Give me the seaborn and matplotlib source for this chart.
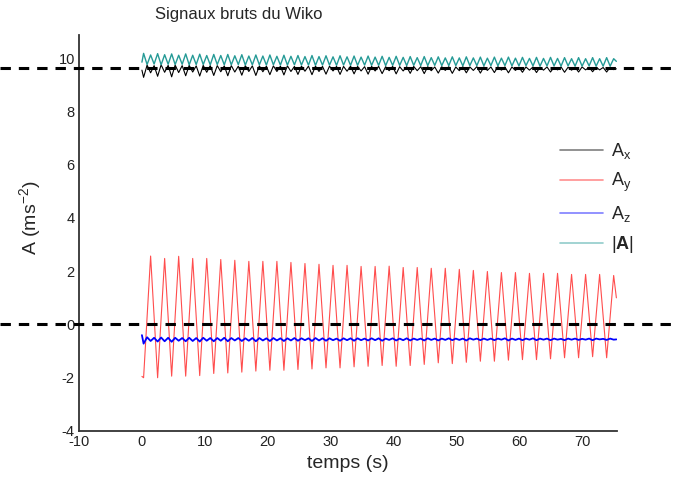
import numpy as np
import pandas as pd
import matplotlib
matplotlib.use("Agg")
import matplotlib.pyplot as plt
import matplotlib.transforms as mtransforms
from matplotlib.lines import Line2D
import seaborn as sns

# ---------------- data ----------------
t_first_ext = 0.265      # time of first A_y extremum (s)
half_period = 1.115      # half period of A_y oscillation (s)
t_start, t_end = 0.0, 75.4
ref_levels = [0.0, 9.64]

ay_troughs = [-2.00, -2.00, -1.94, -1.94, -1.92, -1.84, -1.82, -1.79, -1.75, -1.72,
              -1.72, -1.69, -1.67, -1.63, -1.63, -1.59, -1.57, -1.54, -1.57, -1.54,
              -1.50, -1.44, -1.47, -1.42, -1.38, -1.38, -1.34, -1.32, -1.32, -1.29,
              -1.25, -1.25, -1.21, -1.25]
ay_peaks = [2.57, 2.48, 2.56, 2.48, 2.48, 2.44, 2.41, 2.37, 2.37, 2.37,
            2.33, 2.29, 2.26, 2.22, 2.22, 2.18, 2.18, 2.19, 2.14, 2.14,
            2.11, 2.11, 2.07, 2.03, 1.99, 1.95, 1.95, 1.92, 1.92, 1.92,
            1.88, 1.88, 1.88, 1.84]
ay_start, ay_end = -1.95, 1.00

ax_at_troughs = [9.28, 9.32, 9.30, 9.34, 9.33, 9.35, 9.34, 9.36, 9.35, 9.38,
                 9.37, 9.39, 9.38, 9.40, 9.39, 9.41, 9.40, 9.42, 9.41, 9.43,
                 9.42, 9.44, 9.43, 9.45, 9.44, 9.46, 9.45, 9.47, 9.46, 9.48,
                 9.47, 9.48, 9.49, 9.48]
ax_at_peaks = [9.45, 9.47, 9.46, 9.48, 9.47, 9.49, 9.48, 9.50, 9.49, 9.50,
               9.50, 9.51, 9.50, 9.52, 9.51, 9.52, 9.52, 9.53, 9.52, 9.53,
               9.53, 9.54, 9.53, 9.54, 9.54, 9.55, 9.54, 9.55, 9.55, 9.56,
               9.55, 9.56, 9.56, 9.57]
ax_at_cross = [9.74, 9.72, 9.75, 9.73, 9.74, 9.72, 9.73, 9.71, 9.73, 9.72,
               9.72, 9.71, 9.72, 9.70, 9.72, 9.71, 9.71, 9.70, 9.71, 9.70,
               9.71, 9.69, 9.70, 9.70, 9.70, 9.69, 9.70, 9.69, 9.69, 9.70,
               9.69, 9.68, 9.69, 9.69, 9.68, 9.69, 9.68, 9.68, 9.69, 9.68,
               9.68, 9.67, 9.68, 9.68, 9.67, 9.68, 9.67, 9.68, 9.67, 9.67,
               9.68, 9.67, 9.67, 9.66, 9.67, 9.67, 9.66, 9.67, 9.66, 9.67,
               9.66, 9.66, 9.67, 9.66, 9.66, 9.65, 9.66]
ax_start, ax_end = 9.55, 9.60

az_at_troughs = [-0.72, -0.64, -0.65, -0.63, -0.64, -0.63, -0.63, -0.62, -0.63, -0.62,
                 -0.62, -0.61, -0.62, -0.61, -0.61, -0.61, -0.60, -0.61, -0.60, -0.60,
                 -0.60, -0.60, -0.59, -0.60, -0.59, -0.59, -0.60, -0.59, -0.59, -0.59,
                 -0.59, -0.58, -0.59, -0.58]
az_at_peaks = [-0.62, -0.63, -0.61, -0.62, -0.61, -0.61, -0.60, -0.61, -0.60, -0.60,
               -0.60, -0.59, -0.60, -0.59, -0.59, -0.59, -0.59, -0.58, -0.59, -0.58,
               -0.58, -0.58, -0.58, -0.57, -0.58, -0.57, -0.58, -0.57, -0.57, -0.57,
               -0.57, -0.57, -0.56, -0.57]
az_at_cross = [-0.48, -0.50, -0.49, -0.50, -0.50, -0.51, -0.50, -0.51, -0.50, -0.51,
               -0.51, -0.50, -0.51, -0.51, -0.52, -0.51, -0.51, -0.52, -0.51, -0.52,
               -0.52, -0.51, -0.52, -0.52, -0.51, -0.52, -0.52, -0.53, -0.52, -0.52,
               -0.52, -0.53, -0.52, -0.52, -0.53, -0.52, -0.53, -0.52, -0.53, -0.53,
               -0.52, -0.53, -0.53, -0.52, -0.53, -0.53, -0.52, -0.53, -0.53, -0.53,
               -0.53, -0.52, -0.53, -0.53, -0.53, -0.52, -0.53, -0.53, -0.53, -0.54,
               -0.53, -0.53, -0.54, -0.53, -0.53, -0.54, -0.53]
az_start, az_end = -0.40, -0.56

an_at_troughs = [10.18, 10.17, 10.16, 10.16, 10.15, 10.14, 10.14, 10.13, 10.12, 10.12,
                 10.11, 10.10, 10.10, 10.09, 10.09, 10.08, 10.08, 10.07, 10.07, 10.06,
                 10.06, 10.05, 10.05, 10.05, 10.04, 10.04, 10.04, 10.03, 10.03, 10.03,
                 10.02, 10.02, 10.02, 10.02]
an_at_peaks = [10.12, 10.13, 10.11, 10.11, 10.10, 10.10, 10.09, 10.08, 10.08, 10.07,
               10.07, 10.06, 10.06, 10.05, 10.05, 10.04, 10.04, 10.03, 10.03, 10.02,
               10.02, 10.01, 10.01, 10.01, 10.00, 10.00, 10.00, 9.99, 9.99, 9.99,
               9.98, 9.98, 9.98, 9.98]
an_at_cross = [9.76, 9.78, 9.75, 9.77, 9.76, 9.77, 9.75, 9.76, 9.76, 9.75,
               9.76, 9.75, 9.75, 9.76, 9.74, 9.75, 9.75, 9.74, 9.75, 9.74,
               9.74, 9.75, 9.74, 9.74, 9.73, 9.74, 9.74, 9.73, 9.74, 9.73,
               9.73, 9.74, 9.73, 9.73, 9.72, 9.73, 9.73, 9.72, 9.73, 9.72,
               9.72, 9.73, 9.72, 9.72, 9.72, 9.71, 9.72, 9.72, 9.71, 9.72,
               9.71, 9.72, 9.71, 9.71, 9.72, 9.71, 9.70, 9.71, 9.71, 9.70,
               9.71, 9.70, 9.70, 9.71, 9.70, 9.70, 9.70]
an_start, an_end = 9.85, 9.88

labels = [r"A$_\mathregular{x}$", r"A$_\mathregular{y}$", r"A$_\mathregular{z}$", r"|$\mathbf{A}$|"]
colors = ["#000000", "#ff2020", "#0000ff", "#259a96"]

# ---------------- assemble ----------------
n_ext = len(ay_troughs) + len(ay_peaks)
t_ext = t_first_ext + half_period * np.arange(n_ext)
t_cross = t_ext[:-1] + half_period / 2


def ext_series(troughs, peaks):
    out = np.empty(len(troughs) + len(peaks))
    out[0::2] = troughs
    out[1::2] = peaks
    return out


def fine_series(troughs, peaks, cross):
    e = ext_series(troughs, peaks)
    out = np.empty(len(e) + len(cross))
    out[0::2] = e
    out[1::2] = cross
    return out


t_fine = np.empty(len(t_ext) + len(t_cross))
t_fine[0::2] = t_ext
t_fine[1::2] = t_cross

df_ay = pd.DataFrame({"t": np.r_[t_start, t_ext, t_end],
                      "A": np.r_[ay_start, ext_series(ay_troughs, ay_peaks), ay_end]})
df_ax = pd.DataFrame({"t": np.r_[t_start, t_fine, t_end],
                      "A": np.r_[ax_start, fine_series(ax_at_troughs, ax_at_peaks, ax_at_cross), ax_end]})
df_az = pd.DataFrame({"t": np.r_[t_start, t_fine, t_end],
                      "A": np.r_[az_start, fine_series(az_at_troughs, az_at_peaks, az_at_cross), az_end]})
df_an = pd.DataFrame({"t": np.r_[t_start, t_fine, t_end],
                      "A": np.r_[an_start, fine_series(an_at_troughs, an_at_peaks, an_at_cross), an_end]})

# ---------------- plot ----------------
sns.set_style("white")
plt.rcParams["font.family"] = ["Liberation Sans", "DejaVu Sans"]
plt.rcParams["mathtext.fontset"] = "custom"
plt.rcParams["mathtext.rm"] = "Liberation Sans"
plt.rcParams["mathtext.it"] = "Liberation Sans:italic"
plt.rcParams["mathtext.bf"] = "Liberation Sans:bold"
plt.rcParams["axes.unicode_minus"] = False

W, H = 677, 479
fig = plt.figure(figsize=(W / 100, H / 100), dpi=100)
ax = fig.add_axes([79 / W, 1 - 431 / H, (617 - 79) / W, (431 - 35) / H])

kw = dict(x="t", y="A", estimator=None, sort=False, ax=ax, legend=False)
sns.lineplot(data=df_ax, color=colors[0], lw=0.8, **kw)
sns.lineplot(data=df_ay, color=colors[1], lw=0.8, alpha=0.8, **kw)
sns.lineplot(data=df_az, color=colors[2], lw=1.3, **kw)
sns.lineplot(data=df_an, color=colors[3], lw=1.0, **kw)

trans = mtransforms.blended_transform_factory(fig.transFigure, ax.transData)
for lvl in ref_levels:
    ax.plot([0, 1], [lvl, lvl], transform=trans, color="black", lw=2.2,
            linestyle=(0, (3.4, 2.6)), clip_on=False, zorder=5)

ax.set_xlim(-10, 75.5)
ax.set_ylim(-4, 10.87)
ax.set_xticks(np.arange(-10, 71, 10))
ax.set_yticks(np.arange(-4, 11, 2))
ax.tick_params(axis="both", length=0, pad=3, labelsize=10.5, labelcolor="#222222")
for s in ["top", "right"]:
    ax.spines[s].set_visible(False)
for s in ["left", "bottom"]:
    ax.spines[s].set_color("#333333")
    ax.spines[s].set_linewidth(1.3)
ax.set_xlabel("")
ax.set_ylabel("")

fig.text(155 / W, 1 - 15 / H, "Signaux bruts du Wiko", fontsize=12, ha="left", va="center")
fig.text(348 / W, 1 - 464 / H, "temps (s)", fontsize=14, ha="center", va="center")
fig.text(30 / W, 1 - 218 / H, r"A (ms$^{-2}$)", fontsize=14, ha="center", va="center", rotation=90)

handles = [Line2D([], [], color=c, lw=1.2, alpha=0.5) for c in colors]
ax.legend(handles, labels, loc="upper left", bbox_to_anchor=(560 / W, 1 - 141 / H),
          bbox_transform=fig.transFigure, frameon=False, fontsize=13,
          handlelength=2.4, handletextpad=0.4, labelspacing=0.55,
          borderpad=0, borderaxespad=0)

fig.savefig("out.png", dpi=100)
